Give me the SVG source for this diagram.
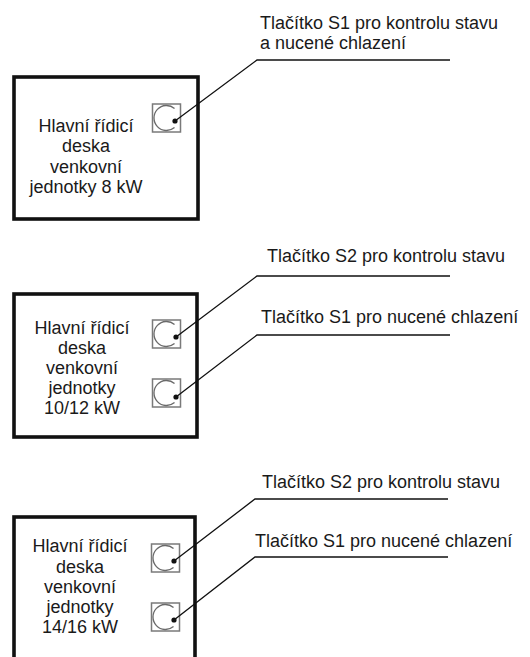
<svg xmlns="http://www.w3.org/2000/svg" xmlns:xlink="http://www.w3.org/1999/xlink" width="530" height="657" viewBox="0 0 530 657">
<style>
  .board { fill: #ffffff; stroke: #111111; stroke-width: 3.6; }
  .t { font-family: "Liberation Sans", Arial, sans-serif; font-size: 18px; fill: #1a1a1a; }
  .c { text-anchor: middle; }
  .lead { fill: none; stroke: #111111; stroke-width: 1.3; }
  .dot { fill: #111111; }
  .sq { fill: #ffffff; stroke: #7a7a7a; stroke-width: 1.5; }
  .arc { fill: none; stroke: #6a6a6a; stroke-width: 1.3; }
</style>
<defs>
  <g id="btn">
    <rect class="sq" x="0" y="0" width="28" height="28"/>
    <path class="arc" d="M22.03,4.42 A12.5,12.5 0 1 0 22.03,23.58"/>
  </g>
</defs>

<g id="board-8kw">
  <rect class="board" x="14" y="77" width="184" height="142"/>
  <text class="t c" x="86" y="132">Hlavní řídicí</text>
  <text class="t c" x="86" y="152">deska</text>
  <text class="t c" x="86" y="173">venkovní</text>
  <text class="t c" x="86" y="193">jednotky 8 kW</text>
  <use xlink:href="#btn" x="152.5" y="104"/>
</g>

<g id="board-10-12kw">
  <rect class="board" x="14" y="294" width="183" height="143"/>
  <text class="t c" x="82" y="334">Hlavní řídicí</text>
  <text class="t c" x="82" y="354">deska</text>
  <text class="t c" x="82" y="374">venkovní</text>
  <text class="t c" x="82" y="394">jednotky</text>
  <text class="t c" x="82" y="414">10/12 kW</text>
  <use xlink:href="#btn" x="152.5" y="320"/>
  <use xlink:href="#btn" x="152.5" y="379"/>
</g>

<g id="board-14-16kw">
  <rect class="board" x="14" y="517" width="181" height="160"/>
  <text class="t c" x="80" y="552">Hlavní řídicí</text>
  <text class="t c" x="80" y="573">deska</text>
  <text class="t c" x="80" y="593">venkovní</text>
  <text class="t c" x="80" y="613">jednotky</text>
  <text class="t c" x="80" y="633">14/16 kW</text>
  <use xlink:href="#btn" x="151.5" y="544"/>
  <use xlink:href="#btn" x="151.5" y="603"/>
</g>

<g id="labels">
  <text class="t" x="260" y="29">Tlačítko S1 pro kontrolu stavu</text>
  <text class="t" x="260" y="49">a nucené chlazení</text>
  <text class="t" x="267" y="262">Tlačítko S2 pro kontrolu stavu</text>
  <text class="t" x="261" y="323">Tlačítko S1 pro nucené chlazení</text>
  <text class="t" x="262" y="488">Tlačítko S2 pro kontrolu stavu</text>
  <text class="t" x="255" y="547">Tlačítko S1 pro nucené chlazení</text>
</g>

<g id="connectors">
  <polyline class="lead" points="175,121 257,60 450,60"/>
  <circle class="dot" cx="175" cy="121" r="2.6"/>
  <polyline class="lead" points="176,337 257,276 450,276"/>
  <circle class="dot" cx="176" cy="337" r="2.6"/>
  <polyline class="lead" points="176,397 257,335 450,335"/>
  <circle class="dot" cx="176" cy="397" r="2.6"/>
  <polyline class="lead" points="174,561 255,499 448,499"/>
  <circle class="dot" cx="174" cy="561" r="2.6"/>
  <polyline class="lead" points="174,620 255,557 448,557"/>
  <circle class="dot" cx="174" cy="620" r="2.6"/>
</g>
</svg>
